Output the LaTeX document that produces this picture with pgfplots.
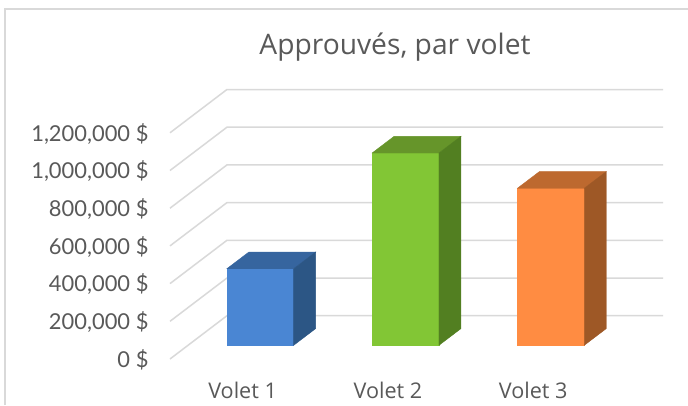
\documentclass[border=0pt]{standalone}
\usepackage{fontspec}
\setmainfont{Open Sans}
\newfontfamily\ticksfont{Lato}
\usepackage{pgfplots}
\pgfplotsset{compat=1.18}
\definecolor{gridc}{HTML}{D9D9D9}
\definecolor{textc}{HTML}{595959}
\definecolor{frontA}{HTML}{4A86D3}
\definecolor{topA}{HTML}{36659F}
\definecolor{sideA}{HTML}{2C5685}
\definecolor{frontB}{HTML}{82C635}
\definecolor{topB}{HTML}{66952A}
\definecolor{sideB}{HTML}{527F21}
\definecolor{frontC}{HTML}{FF8C42}
\definecolor{topC}{HTML}{BD692F}
\definecolor{sideC}{HTML}{9E5826}
\begin{document}
\begin{tikzpicture}[x=1pt,y=1pt]
\path[use as bounding box] (0,0) rectangle (688,405);
\fill[white] (0,0) rectangle (688,405);
% chart frame, open on the right and bottom
\draw[gridc,line width=1.5pt] (5,0) -- (5,396) -- (688,396);
\begin{axis}[
    at={(170pt,46pt)},
    anchor=south west,
    scale only axis,
    width=493pt,
    height=269.5pt,
    xmin=-0.621, xmax=2.772,
    ymin=-72700, ymax=1357000,
    axis line style={draw=none},
    major tick length=0pt,
    scaled y ticks=false,
    xtick={0,1,2},
    xticklabels={Volet 1,Volet 2,Volet 3},
    xticklabel style={font=\fontsize{21.6}{25}\selectfont, text=textc, xshift=-17.6pt, yshift=-20pt},
    ytick={0,200000,400000,600000,800000,1000000,1200000},
    yticklabels={{0 \$},{200,000 \$},{400,000 \$},{600,000 \$},{800,000 \$},{1,000,000 \$},{1,200,000 \$}},
    yticklabel style={font=\ticksfont\fontsize{21.9}{26}\selectfont, text=textc, anchor=east, xshift=-18pt, yshift=-14.5pt},
    title={Approuv\'es, par volet},
    title style={at={(0.4564,1.135)}, anchor=center, font=\fontsize{28.2}{33}\selectfont, text=textc},
    clip=false,
    bar width=66.7pt,
]
% floor lines and back wall
\addplot[gridc,line width=1.5pt] coordinates {(-0.621,-72700) (-0.229,157000) (2.772,157000)};
\addplot[gridc,line width=1.5pt] coordinates {(-0.621,127300) (-0.229,357000) (2.772,357000)};
\addplot[gridc,line width=1.5pt] coordinates {(-0.621,327300) (-0.229,557000) (2.772,557000)};
\addplot[gridc,line width=1.5pt] coordinates {(-0.621,527300) (-0.229,757000) (2.772,757000)};
\addplot[gridc,line width=1.5pt] coordinates {(-0.621,727300) (-0.229,957000) (2.772,957000)};
\addplot[gridc,line width=1.5pt] coordinates {(-0.621,927300) (-0.229,1157000) (2.772,1157000)};
\addplot[gridc,line width=1.5pt] coordinates {(-0.621,1127300) (-0.229,1357000) (2.772,1357000)};
% Volet 1
\addplot[ybar,bar shift=0pt,fill=frontA,draw=frontA] coordinates {(0,406000)};
\addplot[fill=topA,draw=topA] coordinates {(-0.23,406000) (0.23,406000) (0.3815,494600) (-0.0785,494600)} -- cycle;
\addplot[fill=sideA,draw=sideA] coordinates {(0.23,0) (0.3815,88600) (0.3815,494600) (0.23,406000)} -- cycle;
% Volet 2
\addplot[ybar,bar shift=0pt,fill=frontB,draw=frontB] coordinates {(1,1020000)};
\addplot[fill=topB,draw=topB] coordinates {(0.77,1020000) (1.23,1020000) (1.3815,1108600) (0.9215,1108600)} -- cycle;
\addplot[fill=sideB,draw=sideB] coordinates {(1.23,0) (1.3815,88600) (1.3815,1108600) (1.23,1020000)} -- cycle;
% Volet 3
\addplot[ybar,bar shift=0pt,fill=frontC,draw=frontC] coordinates {(2,833000)};
\addplot[fill=topC,draw=topC] coordinates {(1.77,833000) (2.23,833000) (2.3815,921600) (1.9215,921600)} -- cycle;
\addplot[fill=sideC,draw=sideC] coordinates {(2.23,0) (2.3815,88600) (2.3815,921600) (2.23,833000)} -- cycle;
\end{axis}
\end{tikzpicture}
\end{document}
